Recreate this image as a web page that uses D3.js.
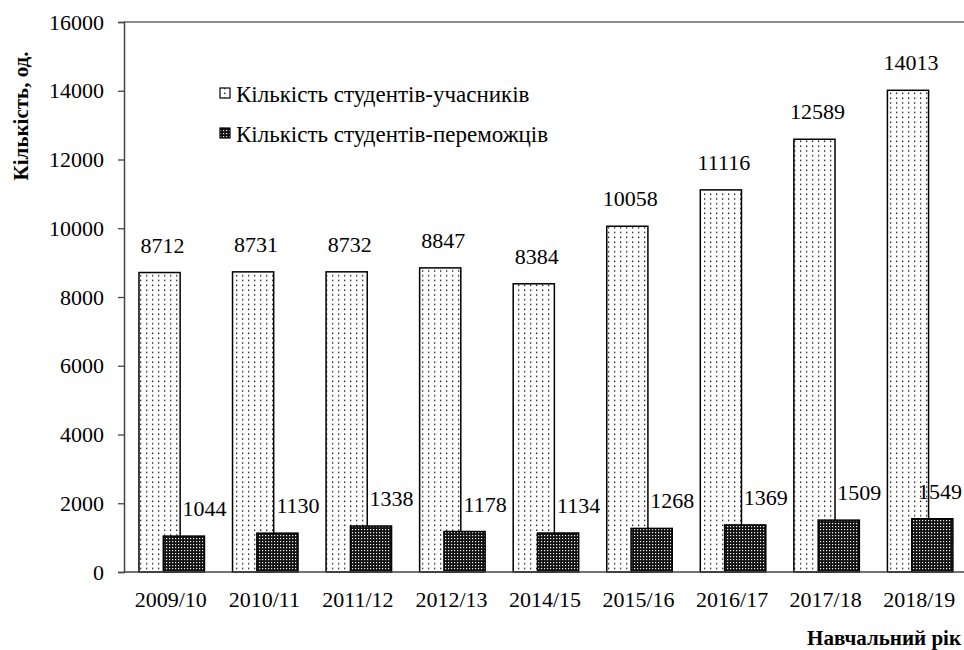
<!DOCTYPE html>
<html>
<head>
<meta charset="utf-8">
<script src="https://cdn.jsdelivr.net/npm/d3@7"></script>
<style>
  html, body { margin: 0; padding: 0; background: #fff; }
  svg { display: block; }
</style>
</head>
<body>
<svg id="chart" width="964" height="650"></svg>
<script>
const categories = ["2009/10","2010/11","2011/12","2012/13","2014/15","2015/16","2016/17","2017/18","2018/19"];
const participants = [8712, 8731, 8732, 8847, 8384, 10058, 11116, 12589, 14013];
const winners = [1044, 1130, 1338, 1178, 1134, 1268, 1369, 1509, 1549];
const seriesNames = ["Кількість студентів-учасників", "Кількість студентів-переможців"];
const yTicks = [0, 2000, 4000, 6000, 8000, 10000, 12000, 14000, 16000];
const yTitle = "Кількість, од.";
const xTitle = "Навчальний рік";

(function() {
const W = 964, H = 650;
const FONT = "Liberation Serif";
const FS = 22;
const svg = d3.select("#chart");
const defs = svg.append("defs");

// dotted pattern (participants)
const p1 = defs.append("pattern").attr("id","dots").attr("patternUnits","userSpaceOnUse")
  .attr("width",6).attr("height",4.8);
p1.append("rect").attr("width",6).attr("height",4.8).attr("fill","#fff");
p1.append("rect").attr("x",2).attr("y",1.5).attr("width",1.3).attr("height",1.3).attr("fill","#000");

// dense dark pattern (winners)
const p2 = defs.append("pattern").attr("id","dark").attr("patternUnits","userSpaceOnUse")
  .attr("width",3).attr("height",3);
p2.append("rect").attr("width",3).attr("height",3).attr("fill","#111");
p2.append("rect").attr("x",1).attr("y",1).attr("width",1.2).attr("height",1.2).attr("fill","#f2f2f2");

const mLeft = 124, mRight = 966, mTop = 22, mBottom = 572;
const x = d3.scaleBand().domain(categories).range([mLeft, mRight]).padding(0);
const y = d3.scaleLinear().domain([0, 16000]).range([mBottom, mTop]);
const bw = x.bandwidth();
const barW = bw * 0.44;
const off1 = bw * 0.16;
const off2 = off1 + bw * 0.26;

// top border line
svg.append("line").attr("x1", mLeft).attr("x2", W).attr("y1", mTop).attr("y2", mTop)
  .attr("stroke", "#666").attr("stroke-width", 1.3);

// bars participants
svg.append("g").selectAll("rect").data(participants).join("rect")
  .attr("x", (d,i) => x(categories[i]) + off1)
  .attr("y", d => y(d))
  .attr("width", barW)
  .attr("height", d => mBottom - y(d))
  .attr("fill", "url(#dots)")
  .attr("stroke", "#000").attr("stroke-width", 1.5);

// bars winners
svg.append("g").selectAll("rect").data(winners).join("rect")
  .attr("x", (d,i) => x(categories[i]) + off2)
  .attr("y", d => y(d))
  .attr("width", barW)
  .attr("height", d => mBottom - y(d))
  .attr("fill", "url(#dark)")
  .attr("stroke", "#000").attr("stroke-width", 1.5);

// labels participants
svg.append("g").selectAll("text").data(participants).join("text")
  .attr("x", (d,i) => x(categories[i]) + off1 + barW/2 + 3)
  .attr("y", d => y(d) - 20)
  .attr("text-anchor", "middle")
  .style("font-family", FONT).style("font-size", FS + "px").attr("fill", "#000")
  .text(d => d);

// labels winners
svg.append("g").selectAll("text").data(winners).join("text")
  .attr("x", (d,i) => x(categories[i]) + off2 + barW)
  .attr("y", d => y(d) - 20)
  .attr("text-anchor", "middle")
  .style("font-family", FONT).style("font-size", FS + "px").attr("fill", "#000")
  .text(d => d)
  .each(function() {
    const t = d3.select(this);
    const len = this.getComputedTextLength();
    const cx = +t.attr("x");
    if (cx + len/2 > W - 2) t.attr("x", W - 2 - len/2);
  });

// y axis
const yAxis = svg.append("g").attr("transform", `translate(${mLeft},0)`)
  .call(d3.axisLeft(y).tickValues(yTicks).tickSize(6).tickPadding(14).tickFormat(d3.format("d")));
yAxis.select(".domain").attr("stroke", "#444").attr("stroke-width", 1.5);
yAxis.selectAll(".tick line").attr("stroke", "#444").attr("stroke-width", 1.3);
yAxis.selectAll(".tick text").style("font-size", FS + "px")
  .style("font-family", FONT).attr("fill", "#000");

// x axis
const xAxis = svg.append("g").attr("transform", `translate(0,${mBottom})`)
  .call(d3.axisBottom(x).tickSize(0).tickPadding(28));
xAxis.select(".domain").attr("stroke", "#444").attr("stroke-width", 1.5)
  .attr("d", `M${mLeft},0H${W}`);
xAxis.selectAll(".tick text").style("font-size", FS + "px")
  .style("font-family", FONT).attr("fill", "#000")
  .attr("dy", "0").attr("y", 35);

// axis titles
svg.append("text")
  .attr("transform", `translate(28,116) rotate(-90)`)
  .attr("text-anchor", "middle")
  .style("font-family", FONT).style("font-size", "21px").style("font-weight", "bold")
  .text(yTitle);
svg.append("text")
  .attr("x", 961).attr("y", 645)
  .attr("text-anchor", "end")
  .style("font-family", FONT).style("font-size", "21px").style("font-weight", "bold")
  .text(xTitle);

// legend
const legend = svg.append("g");
const fills = ["url(#dots)", "url(#dark)"];
seriesNames.forEach((name, i) => {
  const ly = 102 + i * 40;
  legend.append("rect").attr("x", 220).attr("y", ly - 14).attr("width", 10).attr("height", 10)
    .attr("fill", fills[i]).attr("stroke", "#000").attr("stroke-width", 1.2);
  legend.append("text").attr("x", 236).attr("y", ly)
    .style("font-family", FONT).style("font-size", "23px").text(name);
});
})();
</script>
</body>
</html>
